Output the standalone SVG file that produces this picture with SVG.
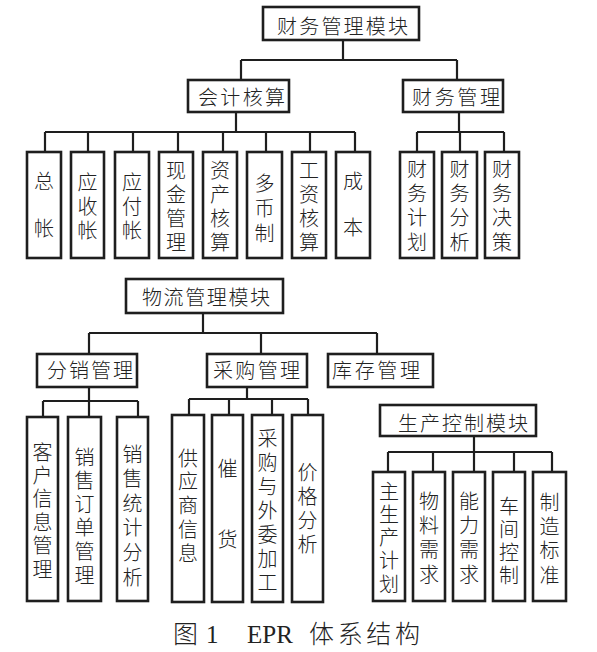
<svg xmlns="http://www.w3.org/2000/svg" width="597" height="652" viewBox="0 0 597 652">
<style>
.b{fill:#fff;stroke:#1e1e1e;stroke-width:2.6}
.c{fill:none;stroke:#1e1e1e;stroke-width:2.2}
.t{font-family:"Noto Sans CJK SC","Noto Sans CJK JP",sans-serif;font-size:20px;fill:#222;font-weight:300}
.v{writing-mode:vertical-rl;text-orientation:upright;text-anchor:middle}
.cap{font-family:"Liberation Serif","Noto Sans CJK SC",serif;font-size:25px;fill:#222}
.capc{font-family:"Noto Sans CJK SC",serif;font-weight:300}
</style>
<rect width="597" height="652" fill="#fff"/>
<g id="connectors">
<path class="c" d="M343,40V60M241,60H457M241,60V80M457,60V80"/>
<path class="c" d="M236,112V132M45,132H355M45,132V152M88,132V152M133,132V152M178,132V152M223,132V152M266,132V152M310,132V152M355,132V152"/>
<path class="c" d="M459,112V132M417,132H504M417,132V152M460,132V152M504,132V152"/>
<path class="c" d="M203,313V333M89,333H377M89,333V354M261,333V354M377,333V354"/>
<path class="c" d="M89,387V417M43,401H138M43,401V417M138,401V417"/>
<path class="c" d="M247,387V399M189,399H308M189,399V415M229,399V415M272,399V415M308,399V415"/>
<path class="c" d="M474,436V452M388,452H552M388,452V472M433,452V472M474,452V472M514,452V472M552,452V472"/>
</g>
<g id="n_cwmk"><rect class="b" x="263" y="7" width="156" height="33"/><text class="t" x="277" y="34" textLength="131" lengthAdjust="spacing">财务管理模块</text></g>
<g id="n_kjhs"><rect class="b" x="188" y="80" width="101" height="32"/><text class="t" x="198" y="105" textLength="87" lengthAdjust="spacing">会计核算</text></g>
<g id="n_cwgl"><rect class="b" x="403" y="80" width="100" height="32"/><text class="t" x="412" y="105" textLength="88" lengthAdjust="spacing">财务管理</text></g>
<g id="n_zz"><rect class="b" x="27" y="152" width="34" height="106"/><text class="t v" x="44" y="218" letter-spacing="27">总帐</text></g>
<g id="n_ysz"><rect class="b" x="71" y="152" width="33" height="106"/><text class="t v" x="87.5" y="208" letter-spacing="4">应收帐</text></g>
<g id="n_yfz"><rect class="b" x="115" y="152" width="34" height="106"/><text class="t v" x="132" y="208" letter-spacing="4">应付帐</text></g>
<g id="n_xjgl"><rect class="b" x="159" y="152" width="34" height="106"/><text class="t v" x="176" y="208" letter-spacing="4">现金管理</text></g>
<g id="n_zchs"><rect class="b" x="203" y="152" width="34" height="106"/><text class="t v" x="220" y="208" letter-spacing="4">资产核算</text></g>
<g id="n_dbz"><rect class="b" x="247" y="152" width="35" height="106"/><text class="t v" x="264.5" y="210.5" letter-spacing="5">多币制</text></g>
<g id="n_gzhs"><rect class="b" x="292" y="152" width="34" height="106"/><text class="t v" x="309" y="208" letter-spacing="4">工资核算</text></g>
<g id="n_cb"><rect class="b" x="336" y="152" width="34" height="106"/><text class="t v" x="353" y="217" letter-spacing="26">成本</text></g>
<g id="n_cwjh"><rect class="b" x="400" y="152" width="34" height="106"/><text class="t v" x="417" y="207.7" letter-spacing="4.3">财务计划</text></g>
<g id="n_cwfx"><rect class="b" x="442" y="152" width="35" height="106"/><text class="t v" x="459.5" y="207.7" letter-spacing="4.3">财务分析</text></g>
<g id="n_cwjc"><rect class="b" x="485" y="152" width="34" height="106"/><text class="t v" x="502" y="207.7" letter-spacing="4.3">财务决策</text></g>
<g id="n_wlmk"><rect class="b" x="126" y="279" width="157" height="34"/><text class="t" x="142" y="305" textLength="128" lengthAdjust="spacing">物流管理模块</text></g>
<g id="n_fxgl"><rect class="b" x="37" y="354" width="100" height="33"/><text class="t" x="47" y="378" textLength="86" lengthAdjust="spacing">分销管理</text></g>
<g id="n_cggl"><rect class="b" x="207" y="354" width="100" height="33"/><text class="t" x="213" y="378" textLength="87" lengthAdjust="spacing">采购管理</text></g>
<g id="n_kcgl"><rect class="b" x="328" y="354" width="105" height="33"/><text class="t" x="332" y="378" textLength="88" lengthAdjust="spacing">库存管理</text></g>
<g id="n_khxx"><rect class="b" x="27" y="417" width="31" height="184"/><text class="t v" x="42.5" y="512.2" letter-spacing="3.4">客户信息管理</text></g>
<g id="n_xsdd"><rect class="b" x="68" y="417" width="33" height="184"/><text class="t v" x="84.5" y="517.8" letter-spacing="3.6">销售订单管理</text></g>
<g id="n_xstj"><rect class="b" x="117" y="417" width="31" height="184"/><text class="t v" x="132.5" y="517.8" letter-spacing="4.6">销售统计分析</text></g>
<g id="n_gysxx"><rect class="b" x="172" y="415" width="32" height="187"/><text class="t v" x="188" y="507.4" letter-spacing="3.75">供应商信息</text></g>
<g id="n_ch"><rect class="b" x="212" y="415" width="31" height="187"/><text class="t v" x="227.5" y="529" letter-spacing="51">催货</text></g>
<g id="n_cgwj"><rect class="b" x="252" y="415" width="31" height="187"/><text class="t v" x="267.5" y="512" letter-spacing="4">采购与外委加工</text></g>
<g id="n_jgfx"><rect class="b" x="292" y="415" width="31" height="187"/><text class="t v" x="307.5" y="510.3" letter-spacing="3.7">价格分析</text></g>
<g id="n_sckz"><rect class="b" x="380" y="405" width="156" height="31"/><text class="t" x="398" y="431" textLength="130" lengthAdjust="spacing">生产控制模块</text></g>
<g id="n_zscjh"><rect class="b" x="373" y="472" width="32" height="129"/><text class="t v" x="389" y="539.1" letter-spacing="3.25">主生产计划</text></g>
<g id="n_wlxq"><rect class="b" x="413" y="472" width="32" height="129"/><text class="t v" x="429" y="539.7" letter-spacing="4.3">物料需求</text></g>
<g id="n_nlxq"><rect class="b" x="453" y="472" width="32" height="129"/><text class="t v" x="469" y="539.7" letter-spacing="4.3">能力需求</text></g>
<g id="n_cjkz"><rect class="b" x="493" y="472" width="32" height="129"/><text class="t v" x="509" y="542" letter-spacing="3">车间控制</text></g>
<g id="n_zzbz"><rect class="b" x="533" y="472" width="33" height="129"/><text class="t v" x="549.5" y="540.7" letter-spacing="4.3">制造标准</text></g>
<g id="caption"><text class="cap"><tspan class="capc" x="173" y="643">图</tspan><tspan x="206" y="643">1</tspan><tspan x="247" y="643">EPR</tspan><tspan class="capc" x="309" y="643" textLength="111" lengthAdjust="spacing">体系结构</tspan></text></g>
</svg>
